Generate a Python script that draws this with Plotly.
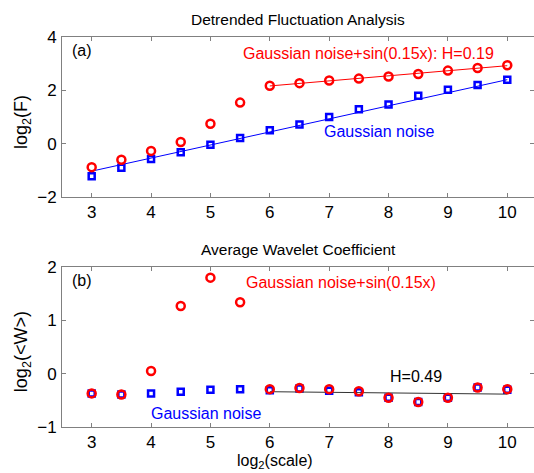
import numpy as np
import plotly.graph_objects as go

# ---- data ----
scales = [3, 3.5, 4, 4.5, 5, 5.5, 6, 6.5, 7, 7.5, 8, 8.5, 9, 9.5, 10]

dfa_noise = [-1.22, -0.90, -0.57, -0.32, -0.04, 0.21, 0.50, 0.72, 1.00, 1.29, 1.47, 1.80, 2.02, 2.20, 2.40]
dfa_sin = [-0.88, -0.60, -0.27, 0.06, 0.75, 1.54, 2.17, 2.27, 2.37, 2.44, 2.52, 2.61, 2.74, 2.84, 2.94]

awc_noise = [-0.37, -0.39, -0.37, -0.34, -0.30, -0.29, -0.31, -0.28, -0.32, -0.35, -0.45, -0.53, -0.45, -0.26, -0.30]
awc_sin = [-0.37, -0.39, 0.05, 1.27, 1.80, 1.34, -0.29, -0.27, -0.29, -0.33, -0.45, -0.53, -0.45, -0.26, -0.29]

# fitted line parameters (slope, intercept) and fit ranges
fit_dfa_noise = [0.49, -2.50]
fit_dfa_noise_range = [3, 10]
fit_dfa_sin_range = [6, 10]
fit_awc_range = [6, 10]

xticks = [3, 4, 5, 6, 7, 8, 9, 10]
yticks_a = [-2, 0, 2, 4]
yticks_b = [-1, 0, 1, 2]

x = np.array(scales)

def polyfit_line(xs, ys, rng):
    xs = np.asarray(xs); ys = np.asarray(ys)
    m = (xs >= rng[0]) & (xs <= rng[1])
    p = np.polyfit(xs[m], ys[m], 1)
    xx = np.array(rng, dtype=float)
    return xx, np.polyval(p, xx)

FONT = "Liberation Sans, Arial, sans-serif"
RED = "#ff0000"
BLUE = "#0000ff"
AX = "#808080"

fig = go.Figure()

# panel (a)
fx = np.array(fit_dfa_noise_range, dtype=float)
fy = fit_dfa_noise[0] * fx + fit_dfa_noise[1]
fig.add_trace(go.Scatter(x=fx, y=fy, mode="lines", line=dict(color=BLUE, width=1), xaxis="x", yaxis="y"))
fig.add_trace(go.Scatter(x=scales, y=dfa_noise, mode="markers",
                         marker=dict(symbol="square-open", size=6, color=BLUE, line=dict(width=2.5)),
                         xaxis="x", yaxis="y"))
fx, fy = polyfit_line(x, dfa_sin, fit_dfa_sin_range)
fig.add_trace(go.Scatter(x=fx, y=fy, mode="lines", line=dict(color=RED, width=1), xaxis="x", yaxis="y"))
fig.add_trace(go.Scatter(x=scales, y=dfa_sin, mode="markers",
                         marker=dict(symbol="circle-open", size=8, color=RED, line=dict(width=2.5)),
                         xaxis="x", yaxis="y"))

# panel (b)
fig.add_trace(go.Scatter(x=scales, y=awc_noise, mode="markers",
                         marker=dict(symbol="square-open", size=6, color=BLUE, line=dict(width=2.5)),
                         xaxis="x2", yaxis="y2"))
fx, fy = polyfit_line(x, awc_noise, fit_awc_range)
fig.add_trace(go.Scatter(x=fx, y=fy, mode="lines", line=dict(color="#333333", width=1), xaxis="x2", yaxis="y2"))
fig.add_trace(go.Scatter(x=scales, y=awc_sin, mode="markers",
                         marker=dict(symbol="circle-open", size=8, color=RED, line=dict(width=2.5)),
                         xaxis="x2", yaxis="y2"))

xcommon = dict(range=[2.5, 10.45], tickvals=xticks, ticks="inside", ticklen=4, tickcolor=AX,
               showline=True, linecolor=AX, linewidth=1, mirror="ticks", showgrid=False, zeroline=False,
               tickfont=dict(family=FONT, size=17, color="black"), ticklabelstandoff=0)
ycommon = dict(ticks="inside", ticklen=4, tickcolor=AX, showline=True, linecolor=AX, linewidth=1,
               mirror="ticks", showgrid=False, zeroline=False,
               tickfont=dict(family=FONT, size=17, color="black"), ticklabelstandoff=1)

fig.update_layout(
    width=534, height=473,
    margin=dict(l=62, r=0, t=37, b=46),
    paper_bgcolor="white", plot_bgcolor="white",
    showlegend=False,
    xaxis=dict(**xcommon, anchor="y"),
    yaxis=dict(**ycommon, range=[-2, 4], tickvals=yticks_a, domain=[0.5897, 1], anchor="x"),
    xaxis2=dict(**xcommon, anchor="y2"),
    yaxis2=dict(**ycommon, range=[-1, 2], tickvals=yticks_b, domain=[0, 0.4103], anchor="x2"),
)

def ann(text, xv, yv, xr, yr, color="black", size=16, xanchor="center", angle=0, yanchor="middle"):
    fig.add_annotation(text=text, x=xv, y=yv, xref=xr, yref=yr, showarrow=False,
                       xanchor=xanchor, yanchor=yanchor, textangle=angle,
                       font=dict(family=FONT, size=size, color=color))

# panel texts
ann("(a)", 2.63, 3.48, "x", "y", xanchor="left")
ann("Gaussian noise+sin(0.15x): H=0.19", 7.66, 3.40, "x", "y", color=RED)
ann("Gaussian noise", 7.84, 0.44, "x", "y", color=BLUE)
ann("(b)", 2.63, 1.74, "x2", "y2", xanchor="left")
ann("Gaussian noise+sin(0.15x)", 7.20, 1.70, "x2", "y2", color=RED)
ann("H=0.49", 8.46, -0.06, "x2", "y2")
ann("Gaussian noise", 4.92, -0.74, "x2", "y2", color=BLUE)

# titles and axis labels
ann("Detrended Fluctuation Analysis", 0.50, 1.046, "paper", "paper", size=15.5)
ann("Average Wavelet Coefficient", 0.50, 0.456, "paper", "paper", size=15.5)
ann("log<sub>2</sub>(F)", -0.0847, 0.782, "paper", "paper", size=18, angle=-90)
ann("log<sub>2</sub>(<W>)", -0.0847, 0.192, "paper", "paper", size=18, angle=-90)
ann("log<sub>2</sub>(scale)", 0.451, -0.118, "paper", "paper", size=16, yanchor="bottom")

fig.write_html("out.html")
